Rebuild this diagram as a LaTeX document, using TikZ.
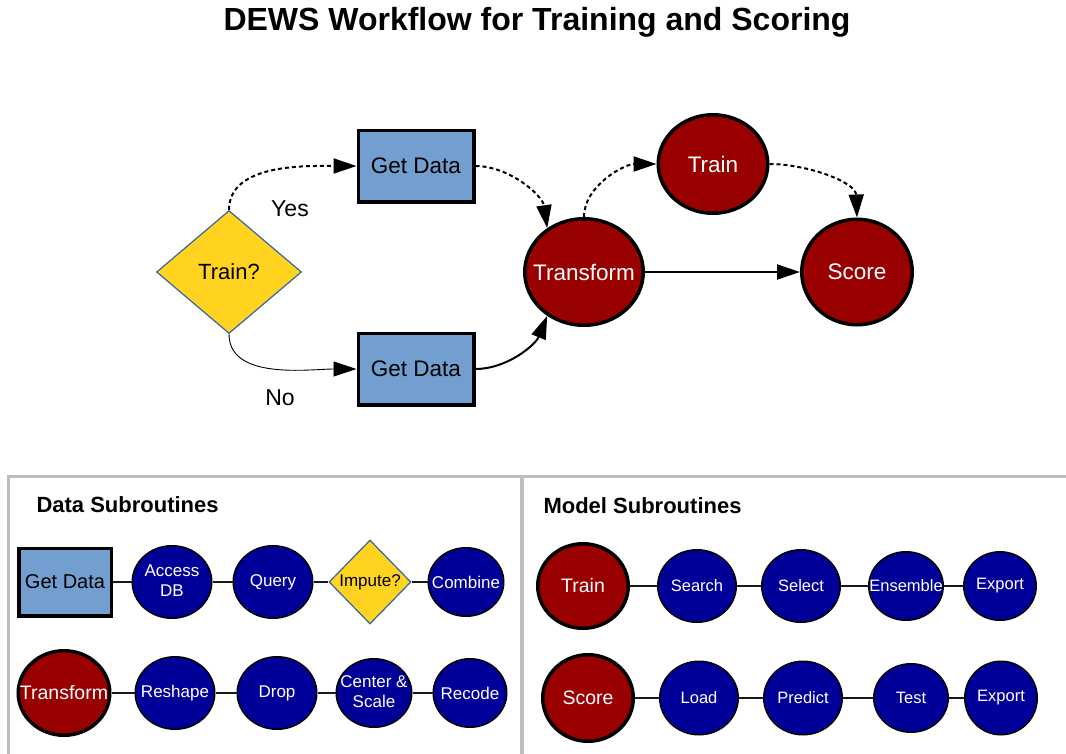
\documentclass[tikz,border=0pt]{standalone}
\usepackage{fontspec}
\setmainfont{Liberation Sans}
\usetikzlibrary{shapes.geometric,arrows.meta}
\definecolor{boxblue}{RGB}{114,159,207}
\definecolor{dred}{RGB}{153,0,0}
\definecolor{dblue}{RGB}{0,0,153}
\definecolor{ylw}{RGB}{255,211,32}
\definecolor{dmdedge}{RGB}{52,101,164}
\definecolor{framegray}{RGB}{190,190,190}
\newcommand{\zw}[1]{\makebox[0pt][c]{#1}}
\newcommand{\fsz}[1]{\fontsize{#1}{#1}\selectfont}
\newcommand{\twol}[2]{\zw{\begin{tabular}{@{}c@{}}#1\\#2\end{tabular}}}
\begin{document}
\begin{tikzpicture}[x=1pt,y=1pt,
  getbox/.style 2 args={draw=black, line width=3.5pt, fill=boxblue, rectangle,
    minimum width=#1, minimum height=#2, inner sep=0pt, text=black},
  redell/.style 2 args={draw=black, line width=3.5pt, fill=dred, ellipse,
    minimum width=#1, minimum height=#2, inner sep=0pt, text=white},
  bluell/.style 2 args={draw=black, line width=1.5pt, fill=dblue, ellipse,
    minimum width=#1, minimum height=#2, inner sep=0pt, text=white,
    font=\fontsize{17}{20}\selectfont},
  dmd/.style 2 args={draw=dmdedge, line width=1.2pt, fill=ylw, diamond,
    minimum width=#1, minimum height=#2, inner sep=0pt, text=black},
  arr/.style={-{Triangle[length=23pt,width=15pt]}},
  dashcon/.style={arr, line width=2pt, dash pattern=on 4pt off 3pt},
  plink/.style={draw=black!90, line width=2pt},
  lbl/.style={font=\fsz{23}, text=black}
]
\useasboundingbox (0,0) rectangle (1066,-753);

% title
\node[font=\fsz{32}\bfseries] (title) at (537,-22) {DEWS Workflow for Training and Scoring};

% main flow
\node[dmd={145pt}{123pt}, font=\fsz{22}] (dec) at (229,-272) {\zw{Train?}};
\node[getbox={115.5pt}{71.5pt}, font=\fsz{22.5}] (g1) at (416,-166) {\zw{Get Data}};
\node[getbox={115.5pt}{71.5pt}, font=\fsz{22.5}] (g2) at (416,-369) {\zw{Get Data}};
\node[redell={118.5pt}{106.5pt}, font=\fsz{22.5}] (tf) at (584,-272) {\zw{Transform}};
\node[redell={109.5pt}{98.5pt}, font=\fsz{22.5}] (tr) at (713,-164) {\zw{Train}};
\node[redell={110.5pt}{105.5pt}, font=\fsz{22.5}] (sc) at (857,-272) {\zw{Score}};

\node[lbl] (yes) at (290,-209) {Yes};
\node[lbl] (no) at (280,-398) {No};

\draw[dashcon] (dec.north) to[out=90,in=180,looseness=0.9] (g1.west);
\draw[dashcon] (g1.east) to[out=0,in=98,looseness=0.9] (tf.130);
\draw[arr, line width=0.9pt] (dec.south) to[out=-90,in=180,looseness=0.9] (g2.west);
\draw[arr, line width=2pt] (g2.east) to[out=0,in=-112,looseness=0.9] (tf.230);
\draw[dashcon] (tf.north) to[out=90,in=180,looseness=0.9] (tr.west);
\draw[dashcon] (tr.east) to[out=0,in=92,looseness=0.9] (sc.north);
\draw[arr, line width=2pt] (tf.east) -- (sc.west);

% panel frames
\draw[framegray, line width=3pt] (8.5,-760) -- (8.5,-476) -- (1070,-476);
\draw[framegray, line width=4pt] (522,-476) -- (522,-760);

\node[anchor=west, font=\fsz{22}\bfseries] (dtitle) at (33,-505) {Data Subroutines};
\node[anchor=west, font=\fsz{22}\bfseries] (mtitle) at (540,-506) {Model Subroutines};

% data subroutines row 1
\node[getbox={92.5pt}{67.5pt}, font=\fsz{20}] (pg) at (65,-582) {\zw{Get Data}};
\node[bluell={79.5pt}{72.5pt}] (acc) at (172,-582) {\twol{Access}{DB}};
\node[bluell={79.5pt}{72.5pt}] (qry) at (273,-582) {\zw{Query}};
\node[dmd={82pt}{84pt}, font=\fsz{17}] (imp) at (370,-582) {\zw{Impute?}};
\node[bluell={75.5pt}{68.5pt}] (cmb) at (466,-582) {\zw{Combine}};
\draw[plink] (pg) -- (acc);
\draw[plink] (acc) -- (qry);
\draw[plink] (qry) -- (imp);
\draw[plink] (imp) -- (cmb);

% data subroutines row 2
\node[redell={91.5pt}{84.5pt}, font=\fsz{19.5}] (ptf) at (64,-693) {\zw{Transform}};
\node[bluell={79.5pt}{72.5pt}] (rsh) at (175,-693) {\zw{Reshape}};
\node[bluell={79.5pt}{72.5pt}] (drp) at (277,-693) {\zw{Drop}};
\node[bluell={75.5pt}{68.5pt}] (ctr) at (374,-693) {\twol{Center \&}{Scale}};
\node[bluell={73.5pt}{68.5pt}] (rec) at (470,-693) {\zw{Recode}};
\draw[plink] (ptf) -- (rsh);
\draw[plink] (rsh) -- (drp);
\draw[plink] (drp) -- (ctr);
\draw[plink] (ctr) -- (rec);

% model subroutines row 1
\node[redell={90.5pt}{84.5pt}, font=\fsz{19.5}] (ptr) at (583,-586) {\zw{Train}};
\node[bluell={78.5pt}{72.5pt}, font=\fsz{16.5}] (srch) at (697,-586) {\zw{Search}};
\node[bluell={78.5pt}{72.5pt}, font=\fsz{16.5}] (sel) at (801,-586) {\zw{Select}};
\node[bluell={74.5pt}{68.5pt}, font=\fsz{16.5}] (ens) at (906,-586) {\zw{Ensemble}};
\node[bluell={72.5pt}{68.5pt}, font=\fsz{16.5}] (exp1) at (1000,-586) {\zw{Export}};
\draw[plink] (ptr) -- (srch);
\draw[plink] (srch) -- (sel);
\draw[plink] (sel) -- (ens);
\draw[plink] (ens) -- (exp1);

% model subroutines row 2
\node[redell={90.5pt}{86.5pt}, font=\fsz{19.5}] (psc) at (588,-698) {\zw{Score}};
\node[bluell={78.5pt}{73.5pt}, font=\fsz{16.5}] (lod) at (699,-698) {\zw{Load}};
\node[bluell={78.5pt}{73.5pt}, font=\fsz{16.5}] (prd) at (803,-698) {\zw{Predict}};
\node[bluell={74.5pt}{68.5pt}, font=\fsz{16.5}] (tst) at (911,-698) {\zw{Test}};
\node[bluell={72.5pt}{73.5pt}, font=\fsz{16.5}] (exp2) at (1001,-698) {\zw{Export}};
\draw[plink] (psc) -- (lod);
\draw[plink] (lod) -- (prd);
\draw[plink] (prd) -- (tst);
\draw[plink] (tst) -- (exp2);
\end{tikzpicture}
\end{document}
